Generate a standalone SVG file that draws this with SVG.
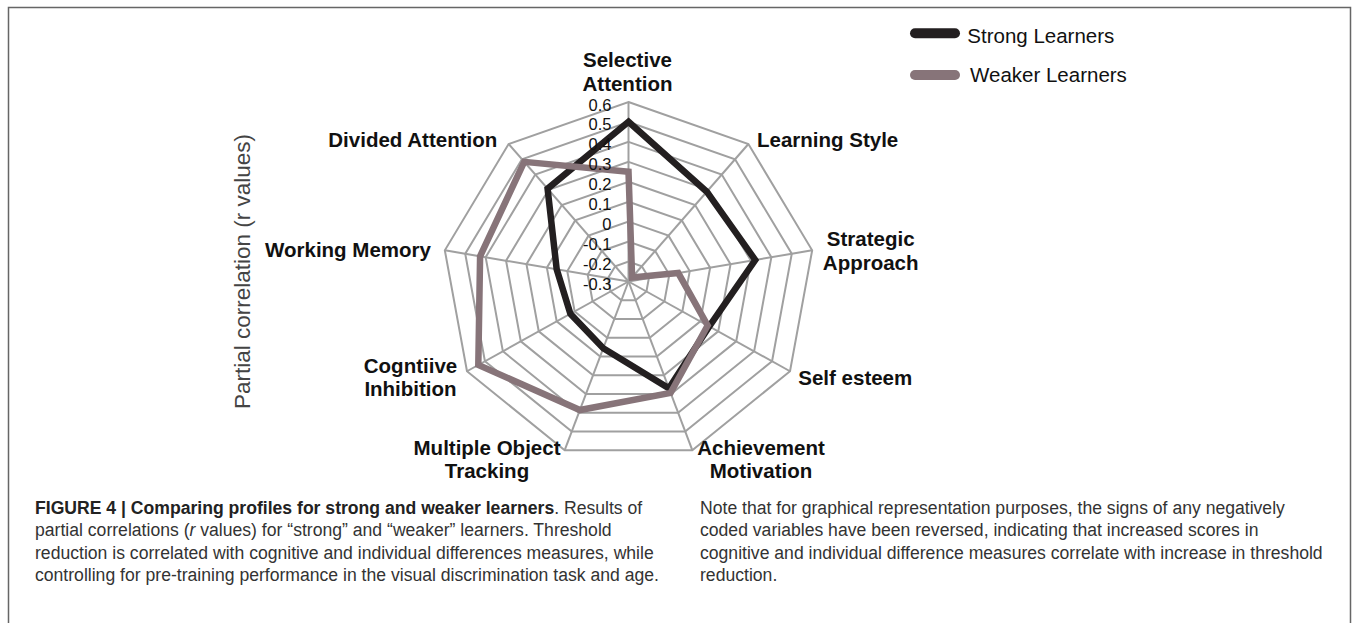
<svg xmlns="http://www.w3.org/2000/svg" xmlns:xlink="http://www.w3.org/1999/xlink" width="1353" height="623" viewBox="0 0 1353 623">
<style>
.grid{fill:none;stroke:#a0a0a0;stroke-width:2;vector-effect:non-scaling-stroke}
.spoke{stroke:#a0a0a0;stroke-width:2}
.lbl{font-family:"Liberation Sans",Arial,sans-serif;font-weight:bold;font-size:20.5px;fill:#111}
.mid{text-anchor:middle}
.tick{font-family:"Liberation Sans",Arial,sans-serif;font-size:16.5px;fill:#111;text-anchor:end}
.leg{font-family:"Liberation Sans",Arial,sans-serif;font-size:20.5px;fill:#111}
.cap{font-family:"Liberation Sans",Arial,sans-serif;font-size:17.6px;fill:#333}
.b{font-weight:bold;fill:#222}
.strong{fill:none;stroke:#231f20;stroke-width:6.5;stroke-linejoin:miter}
.weak{fill:none;stroke:#877479;stroke-width:6.5;stroke-linejoin:miter}
</style>
<defs>
<polygon id="ring" class="grid" points="0,-179.5 119.88,-137.51 183.67,-31.17 161.51,89.75 63.79,168.67 -63.79,168.67 -161.51,89.75 -183.67,-31.17 -119.88,-137.51"/>
</defs>
<rect width="1353" height="623" fill="#fff"/>
<path d="M8.5,623 V7.5 H1350.5 V623" fill="none" stroke="#666" stroke-width="1.5"/>

<g id="grid" transform="translate(628.5 281.5)">
<use href="#ring" transform="scale(0.11111)"/>
<use href="#ring" transform="scale(0.22222)"/>
<use href="#ring" transform="scale(0.33333)"/>
<use href="#ring" transform="scale(0.44444)"/>
<use href="#ring" transform="scale(0.55556)"/>
<use href="#ring" transform="scale(0.66667)"/>
<use href="#ring" transform="scale(0.77778)"/>
<use href="#ring" transform="scale(0.88889)"/>
<use href="#ring"/>
<line class="spoke" x1="0" y1="0" x2="0" y2="-179.5"/>
<line class="spoke" x1="0" y1="0" x2="119.88" y2="-137.51"/>
<line class="spoke" x1="0" y1="0" x2="183.67" y2="-31.17"/>
<line class="spoke" x1="0" y1="0" x2="161.51" y2="89.75"/>
<line class="spoke" x1="0" y1="0" x2="63.79" y2="168.67"/>
<line class="spoke" x1="0" y1="0" x2="-63.79" y2="168.67"/>
<line class="spoke" x1="0" y1="0" x2="-161.51" y2="89.75"/>
<line class="spoke" x1="0" y1="0" x2="-183.67" y2="-31.17"/>
<line class="spoke" x1="0" y1="0" x2="-119.88" y2="-137.51"/>
</g>

<g id="connectors">
<polygon id="series-strong" class="strong" points="628.5,121.74 706.78,191.71 755.23,259.99 709.26,326.38 668.88,388.27 603.24,348.29 570.36,313.81 556.69,269.31 547.58,188.68"/>
<polygon id="series-weaker" class="weak" points="628.5,171.65 632.1,277.37 678.27,273.05 707.64,325.48 670.6,392.82 579.89,410.03 478.3,364.97 480.09,256.31 524.2,161.87"/>
</g>

<g id="ticks">
<text class="tick" x="611.5" y="110.5">0.6</text>
<text class="tick" x="611.5" y="130.44">0.5</text>
<text class="tick" x="611.5" y="150.39">0.4</text>
<text class="tick" x="611.5" y="170.33">0.3</text>
<text class="tick" x="611.5" y="190.28">0.2</text>
<text class="tick" x="611.5" y="210.22">0.1</text>
<text class="tick" x="611.5" y="230.17">0</text>
<text class="tick" x="611.5" y="250.11">-0.1</text>
<text class="tick" x="611.5" y="270.06">-0.2</text>
<text class="tick" x="611.5" y="290">-0.3</text>
</g>

<g id="node-selective-attention"><text class="lbl mid" x="627.5" y="67">Selective</text><text class="lbl mid" x="627.5" y="91">Attention</text></g>
<g id="node-learning-style"><text class="lbl" x="757" y="146.7">Learning Style</text></g>
<g id="node-strategic-approach"><text class="lbl mid" x="870.7" y="246">Strategic</text><text class="lbl mid" x="870.7" y="269.7">Approach</text></g>
<g id="node-self-esteem"><text class="lbl" x="798.3" y="385">Self esteem</text></g>
<g id="node-achievement-motivation"><text class="lbl mid" x="761" y="455">Achievement</text><text class="lbl mid" x="761" y="478.3">Motivation</text></g>
<g id="node-multiple-object-tracking"><text class="lbl mid" x="487" y="455">Multiple Object</text><text class="lbl mid" x="487" y="478.3">Tracking</text></g>
<g id="node-cognitive-inhibition"><text class="lbl mid" x="410.5" y="373.3">Cogntiive</text><text class="lbl mid" x="410.5" y="396">Inhibition</text></g>
<g id="node-working-memory"><text class="lbl" x="265" y="257">Working Memory</text></g>
<g id="node-divided-attention"><text class="lbl" x="328.3" y="146.7">Divided Attention</text></g>

<g id="axis-title"><text font-family="Liberation Sans, Arial, sans-serif" font-size="22.5" fill="#444" text-anchor="middle" transform="translate(250 271.5) rotate(-90)">Partial correlation (r values)</text></g>

<g id="legend">
<line x1="915" y1="33.3" x2="955" y2="33.3" stroke="#231f20" stroke-width="10" stroke-linecap="round"/>
<text class="leg" x="967.3" y="42.7">Strong Learners</text>
<line x1="915" y1="75" x2="955" y2="75" stroke="#877479" stroke-width="10" stroke-linecap="round"/>
<text class="leg" x="970" y="81.7">Weaker Learners</text>
</g>

<g id="caption">
<text class="cap" x="35" y="513.5"><tspan class="b">FIGURE 4 | Comparing profiles for strong and weaker learners</tspan>. Results of</text>
<text class="cap" x="35" y="536">partial correlations (<tspan font-style="italic">r</tspan> values) for “strong” and “weaker” learners. Threshold</text>
<text class="cap" x="35" y="558.5">reduction is correlated with cognitive and individual differences measures, while</text>
<text class="cap" x="35" y="581">controlling for pre-training performance in the visual discrimination task and age.</text>
<text class="cap" x="700" y="513.5">Note that for graphical representation purposes, the signs of any negatively</text>
<text class="cap" x="700" y="536">coded variables have been reversed, indicating that increased scores in</text>
<text class="cap" x="700" y="558.5">cognitive and individual difference measures correlate with increase in threshold</text>
<text class="cap" x="700" y="581">reduction.</text>
</g>
</svg>
